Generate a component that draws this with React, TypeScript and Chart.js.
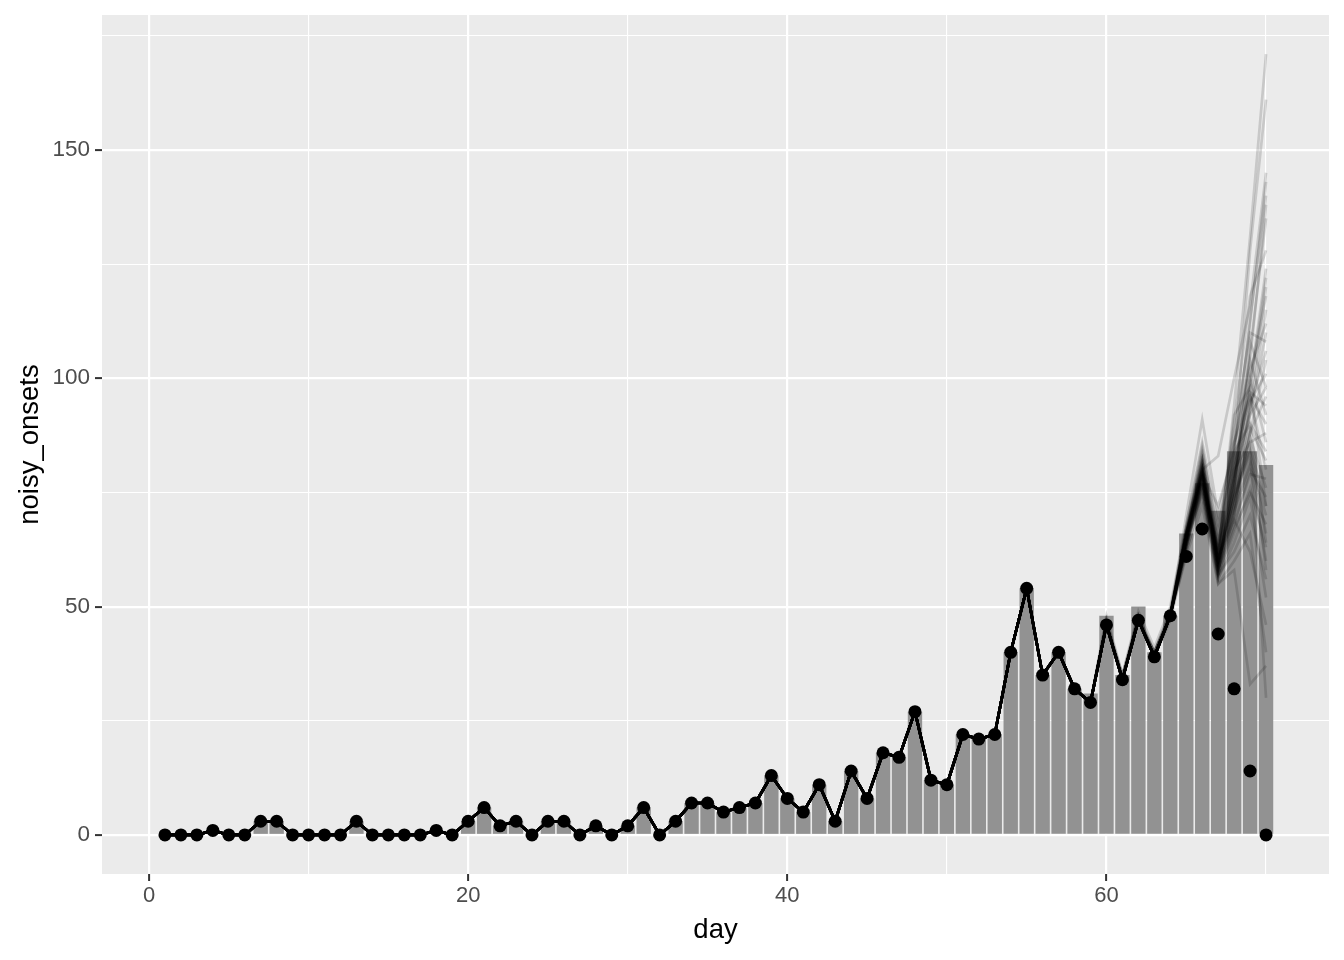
import React, { useEffect, useRef } from 'react';
import { Chart, registerables } from 'chart.js';

Chart.register(...registerables);

// Day index (x)
const days = [
  1, 2, 3, 4, 5, 6, 7, 8, 9, 10, 11, 12, 13, 14, 15, 16, 17, 18, 19, 20,
  21, 22, 23, 24, 25, 26, 27, 28, 29, 30, 31, 32, 33, 34, 35, 36, 37, 38, 39, 40,
  41, 42, 43, 44, 45, 46, 47, 48, 49, 50, 51, 52, 53, 54, 55, 56, 57, 58, 59, 60,
  61, 62, 63, 64, 65, 66, 67, 68, 69, 70,
];

// Observed noisy onsets (black points)
const observedOnsets = [
  0, 0, 0, 1, 0, 0, 3, 3, 0, 0, 0, 0, 3, 0, 0, 0, 0, 1, 0, 3,
  6, 2, 3, 0, 3, 3, 0, 2, 0, 2, 6, 0, 3, 7, 7, 5, 6, 7, 13, 8,
  5, 11, 3, 14, 8, 18, 17, 27, 12, 11, 22, 21, 22, 40, 54, 35, 40, 32, 29, 46,
  34, 47, 39, 48, 61, 67, 44, 32, 14, 0,
];

// Bar heights (grey columns)
const barOnsets = [
  0, 0, 0, 1, 0, 0, 3, 3, 0, 0, 0, 0, 3, 0, 0, 0, 0, 1, 0, 3,
  6, 2, 3, 0, 3, 3, 0, 2, 0, 2, 6, 0, 3, 7, 7, 5, 6, 7, 13, 8,
  5, 11, 3, 14, 8, 18, 17, 27, 12, 11, 22, 21, 22, 40, 54, 35, 40, 32, 31, 48,
  35, 50, 40, 48, 66, 77, 71, 84, 84, 81,
];

// Sample trajectories: shared part for days 1..59 follows the observed series
const sharedDays = 59;

// Sample tails, days 60..70
const sampleTails = [
  [46, 34, 47, 40, 48, 64, 78, 58, 72, 88, 96],
  [46, 34, 48, 39, 49, 66, 80, 60, 76, 92, 110],
  [47, 35, 47, 40, 48, 63, 76, 57, 68, 80, 74],
  [46, 34, 47, 39, 48, 65, 82, 61, 80, 98, 122],
  [46, 34, 47, 39, 47, 62, 75, 56, 66, 76, 63],
  [48, 35, 49, 41, 50, 68, 85, 64, 85, 104, 138],
  [46, 34, 47, 39, 48, 66, 79, 59, 74, 86, 88],
  [46, 34, 47, 40, 49, 67, 81, 62, 78, 95, 101],
  [46, 34, 47, 39, 48, 64, 77, 58, 70, 82, 70],
  [46, 35, 48, 40, 48, 65, 80, 60, 84, 112, 143],
  [46, 34, 47, 39, 48, 63, 78, 57, 62, 70, 56],
  [46, 34, 47, 39, 48, 66, 83, 63, 90, 118, 128],
  [47, 34, 47, 39, 48, 64, 76, 56, 64, 74, 52],
  [46, 34, 47, 39, 48, 67, 84, 66, 88, 110, 108],
  [46, 34, 48, 40, 49, 65, 79, 60, 72, 90, 84],
  [46, 34, 47, 39, 48, 62, 74, 55, 60, 66, 40],
  [46, 34, 47, 39, 48, 66, 80, 61, 94, 131, 171],
  [46, 34, 47, 39, 48, 64, 78, 59, 76, 100, 118],
  [46, 35, 47, 39, 48, 68, 86, 68, 82, 96, 90],
  [46, 34, 47, 39, 48, 65, 77, 58, 68, 79, 78],
  [46, 34, 47, 39, 48, 63, 79, 72, 84, 128, 161],
  [46, 34, 47, 39, 48, 65, 81, 60, 74, 84, 66],
  [46, 34, 47, 40, 48, 66, 82, 62, 79, 92, 98],
  [46, 34, 47, 39, 48, 64, 75, 57, 70, 88, 104],
  [46, 34, 47, 39, 48, 61, 72, 55, 58, 33, 37],
  [46, 34, 47, 39, 48, 66, 80, 59, 76, 106, 135],
  [47, 34, 48, 39, 48, 70, 91, 70, 86, 102, 112],
  [46, 34, 47, 39, 48, 65, 78, 58, 73, 85, 72],
  [46, 34, 47, 39, 48, 64, 79, 60, 80, 97, 94],
  [46, 34, 47, 39, 48, 66, 81, 61, 69, 62, 46],
  [46, 34, 47, 39, 48, 65, 80, 83, 100, 116, 145],
  [46, 34, 47, 39, 48, 64, 77, 59, 77, 100, 86],
  [46, 34, 47, 39, 48, 66, 78, 58, 71, 81, 60],
  [46, 34, 47, 39, 48, 67, 83, 64, 82, 113, 140],
  [46, 34, 47, 39, 48, 65, 79, 60, 75, 89, 82],
  [46, 34, 47, 39, 48, 63, 76, 57, 67, 75, 68],
  [46, 34, 47, 39, 48, 66, 82, 62, 81, 99, 124],
  [46, 34, 47, 39, 48, 64, 78, 59, 74, 87, 76],
  [46, 34, 47, 39, 48, 65, 80, 61, 78, 93, 115],
  [46, 34, 47, 39, 48, 66, 79, 60, 72, 84, 30],
  [46, 34, 47, 39, 48, 65, 78, 62, 86, 96, 80],
  [46, 34, 47, 39, 48, 64, 80, 58, 78, 104, 92],
  [46, 34, 47, 39, 48, 66, 79, 61, 92, 98, 72],
  [46, 34, 47, 39, 48, 65, 81, 59, 70, 94, 106],
  [46, 34, 47, 39, 48, 63, 77, 63, 84, 90, 64],
  [46, 34, 47, 39, 48, 67, 82, 60, 76, 108, 98],
  [46, 34, 47, 39, 48, 65, 79, 57, 80, 86, 58],
  [46, 34, 47, 39, 48, 66, 80, 60, 74, 95, 120],
];

// Axis ticks (major + minor grid positions)
const xTickValues = [0, 10, 20, 30, 40, 50, 60, 70];
const xMajorTicks = [0, 20, 40, 60];
const yTickValues = [0, 25, 50, 75, 100, 125, 150, 175];
const yMajorTicks = [0, 50, 100, 150];

const FONT = "'Liberation Sans', Arial, Helvetica, sans-serif";

const panelBg = {
  id: 'panelBg',
  beforeDraw(chart: any) {
    const { ctx, chartArea } = chart;
    if (!chartArea) return;
    ctx.save();
    ctx.fillStyle = '#EBEBEB';
    ctx.fillRect(chartArea.left, chartArea.top, chartArea.right - chartArea.left, chartArea.bottom - chartArea.top);
    ctx.restore();
  },
};

export default function App() {
  const canvasRef = useRef<HTMLCanvasElement | null>(null);

  useEffect(() => {
    const canvas = canvasRef.current;
    if (!canvas) return;

    const barData = days.map((d, i) => ({ x: d, y: barOnsets[i] }));
    const pointData = days.map((d, i) => ({ x: d, y: observedOnsets[i] }));

    const sampleDatasets = sampleTails.map((tail, k) => ({
      type: 'line' as const,
      label: 'sample' + k,
      data: days.map((d, i) => ({ x: d, y: i < sharedDays ? observedOnsets[i] : tail[i - sharedDays] })),
      borderColor: 'rgba(0,0,0,0.15)',
      borderWidth: 2.7,
      pointRadius: 0,
      tension: 0,
      fill: false,
      order: 2,
    }));

    const chart = new Chart(canvas, {
      type: 'scatter',
      data: {
        datasets: [
          {
            type: 'bar' as const,
            label: 'bars',
            data: barData as any,
            backgroundColor: '#929292',
            borderWidth: 0,
            barPercentage: 0.9,
            categoryPercentage: 1,
            order: 3,
          } as any,
          ...sampleDatasets,
          {
            type: 'scatter' as const,
            label: 'observed',
            data: pointData,
            backgroundColor: '#000000',
            borderWidth: 0,
            pointRadius: 6.5,
            order: 1,
          },
        ],
      },
      options: {
        animation: false,
        responsive: false,
        devicePixelRatio: 1,
        layout: { padding: { left: 0, right: 15, top: 15, bottom: 0 } },
        plugins: {
          legend: { display: false },
          tooltip: { enabled: false },
        },
        scales: {
          x: {
            type: 'linear',
            min: -2.945,
            max: 73.945,
            offset: false,
            afterBuildTicks: (s: any) => {
              s.ticks = xTickValues.map((v) => ({ value: v }));
            },
            afterFit: (s: any) => {
              s.height = 86;
              s.paddingLeft = 0;
              s.paddingRight = 0;
            },
            ticks: {
              autoSkip: false,
              maxRotation: 0,
              minRotation: 0,
              padding: 2,
              color: '#4D4D4D',
              font: { family: FONT, size: 22 },
              callback: (v: any) => (xMajorTicks.includes(Number(v)) ? String(v) : ''),
            },
            grid: {
              offset: false,
              color: '#FFFFFF',
              lineWidth: (ctx: any) => (ctx.tick && xMajorTicks.includes(ctx.tick.value) ? 2.2 : 1.1),
              drawTicks: true,
              tickLength: 7,
              tickWidth: 2,
              tickColor: (ctx: any) => (ctx.tick && xMajorTicks.includes(ctx.tick.value) ? '#333333' : 'rgba(0,0,0,0)'),
            },
            border: { display: false },
            title: {
              display: true,
              text: 'day',
              color: '#000000',
              font: { family: FONT, size: 27.5 },
              padding: { top: 0, bottom: 13 },
            },
          },
          y: {
            type: 'linear',
            min: -8.55,
            max: 179.55,
            afterBuildTicks: (s: any) => {
              s.ticks = yTickValues.map((v) => ({ value: v }));
            },
            afterFit: (s: any) => {
              s.width = 102;
              s.paddingTop = 0;
              s.paddingBottom = 0;
            },
            ticks: {
              autoSkip: false,
              padding: 5,
              color: '#4D4D4D',
              font: { family: FONT, size: 22.5 },
              callback: (v: any) => (yMajorTicks.includes(Number(v)) ? String(v) : ''),
            },
            grid: {
              offset: false,
              color: '#FFFFFF',
              lineWidth: (ctx: any) => (ctx.tick && yMajorTicks.includes(ctx.tick.value) ? 2.2 : 1.1),
              drawTicks: true,
              tickLength: 7,
              tickWidth: 2,
              tickColor: (ctx: any) => (ctx.tick && yMajorTicks.includes(ctx.tick.value) ? '#333333' : 'rgba(0,0,0,0)'),
            },
            border: { display: false },
            title: {
              display: true,
              text: 'noisy_onsets',
              color: '#000000',
              font: { family: FONT, size: 27.5 },
              padding: { top: 13.5, bottom: 0 },
            },
          },
        },
      } as any,
      plugins: [panelBg],
    });

    return () => {
      chart.destroy();
    };
  }, []);

  return (
    <div style={{ position: 'absolute', left: 0, top: 0, width: 1344, height: 960, background: '#FFFFFF' }}>
      <canvas ref={canvasRef} width={1344} height={960} style={{ display: 'block', width: 1344, height: 960 }} />
    </div>
  );
}
